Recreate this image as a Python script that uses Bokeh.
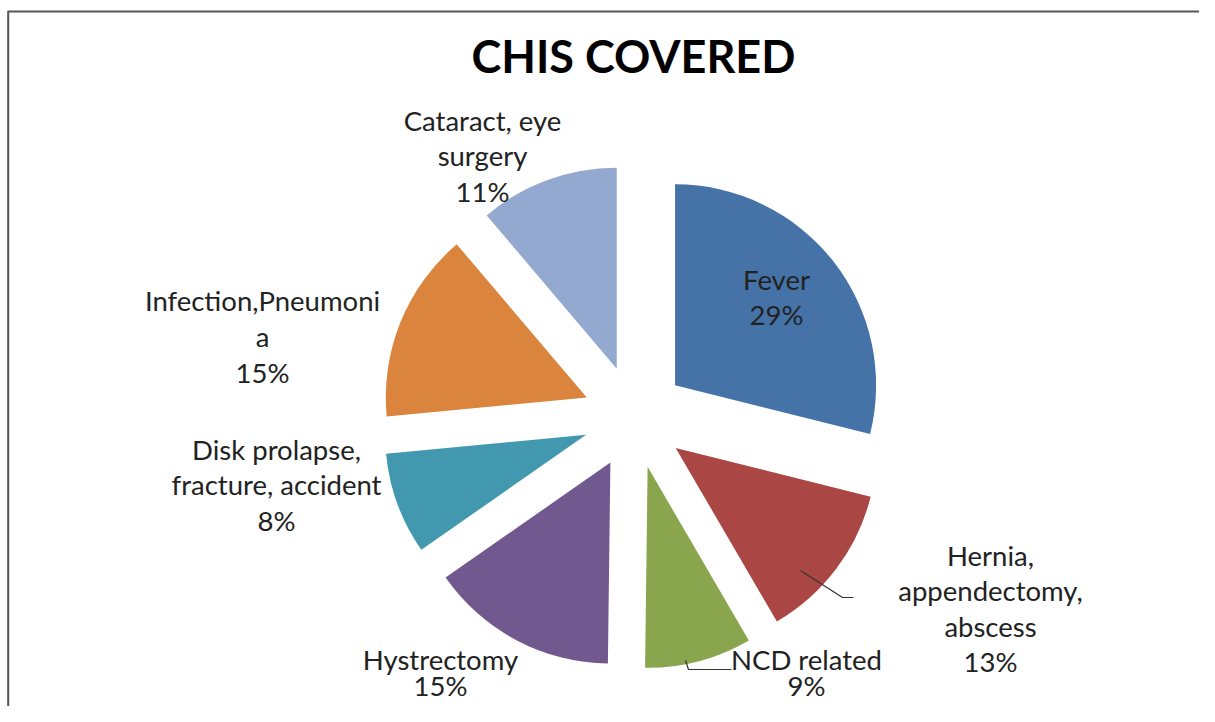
import numpy as np
from bokeh.plotting import figure
from bokeh.models import Range1d, ColumnDataSource
from bokeh.embed import file_html
from bokeh.resources import INLINE
from bokeh.core.properties import value

# ---------------- data ----------------
title_text = "CHIS COVERED"
categories = ["Fever", "Hernia, appendectomy, abscess", "NCD related", "Hystrectomy",
              "Disk prolapse, fracture, accident", "Infection,Pneumonia", "Cataract, eye surgery"]
label_names = ["Fever", "Hernia,\nappendectomy,\nabscess", "NCD related", "Hystrectomy",
               "Disk prolapse,\nfracture, accident", "Infection,Pneumoni\na", "Cataract, eye\nsurgery"]
shares = [28.9, 12.7, 8.6, 15.1, 8.2, 15.3, 11.2]
colors = ["#4572A7", "#AA4643", "#89A54E", "#71588F", "#4198AF", "#DB843D", "#93A9CF"]

# ---------------- layout (pixels from the picture's top-left) ----------------
W, H = 1199, 706
def sy(y):
    return H - np.asarray(y, dtype=float)

center_x, center_y = 634.0, 416.5   # pie centre
radius = 201.0
explode = 51.5
label_x = [776, 990, 806, 440, 276, 262, 482]
label_y = [296.5, 608, 672, 672, 484.5, 336, 155.5]
bottom_labels = [2, 3]              # labels near the lower edge, set more tightly

# ---------------- geometry from data ----------------
vals = np.array(shares, dtype=float)
frac = vals / vals.sum()
cum = np.concatenate([[0.0], np.cumsum(frac)]) * 2 * np.pi   # clockwise from 12 o'clock
theta0, theta1 = cum[:-1], cum[1:]
mid = (theta0 + theta1) / 2
cx = center_x + explode * np.sin(mid)
cy = sy(center_y) + explode * np.cos(mid)
start = np.pi / 2 - theta0
end = np.pi / 2 - theta1

pct = [f"{int(round(f * 100))}%" for f in frac]
texts = [f"{n}\n{p}" for n, p in zip(label_names, pct)]

src = ColumnDataSource(dict(cx=cx, cy=cy, start=start, end=end, color=colors, cat=categories))
top_idx = [i for i in range(len(texts)) if i not in bottom_labels]
lsrc = ColumnDataSource(dict(x=[label_x[i] for i in top_idx],
                             y=sy([label_y[i] for i in top_idx]),
                             text=[texts[i] for i in top_idx]))
bsrc = ColumnDataSource(dict(x=[label_x[i] for i in bottom_labels],
                             y=sy([label_y[i] for i in bottom_labels]),
                             text=[texts[i] for i in bottom_labels]))

p = figure(width=W, height=H, output_backend="svg", toolbar_location=None,
           x_range=Range1d(0, W), y_range=Range1d(0, H),
           min_border=0, outline_line_color=None, background_fill_color="white",
           border_fill_color="white")
p.axis.visible = False
p.xgrid.visible = False
p.ygrid.visible = False

# frame
p.line([7.7, 7.7], sy([11, H + 5]), line_color="#555555", line_width=2)
p.line([7, W + 5], sy([11, 11]), line_color="#555555", line_width=2)

p.wedge(x="cx", y="cy", radius=radius, start_angle="start", end_angle="end",
        direction="clock", fill_color="color", line_color=None, source=src)

# leader lines
p.line([800, 842, 853], sy([570, 597, 597]), line_color="#333333", line_width=1.2)
p.line([685, 688, 731], sy([660, 669, 669]), line_color="#333333", line_width=1.2)

common = dict(text_align="center", text_baseline="middle", text_font=value("Lato"),
              text_font_size="27.5px", text_color="#222222")
p.text(x="x", y="y", text="text", source=lsrc, text_line_height=1.08, **common)
p.text(x="x", y="y", text="text", source=bsrc, text_line_height=0.8, **common)

p.text(x=[633], y=sy([55]), text=[title_text], text_align="center", text_baseline="middle",
       text_font=value("Lato"), text_font_style="bold", text_font_size="45px",
       text_color="#000000")

open("out.html", "w").write(file_html(p, INLINE))
